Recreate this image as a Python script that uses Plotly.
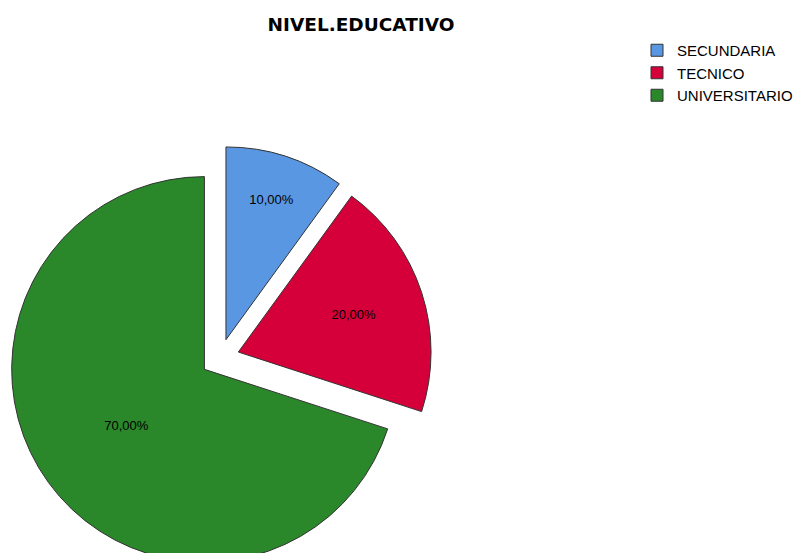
import plotly.graph_objects as go

# datos
categorias = ["SECUNDARIA", "TECNICO", "UNIVERSITARIO"]
porcentajes = [10, 20, 70]
colores = ["#5a97e2", "#d5003a", "#2a872a"]

# la pagina tiene 8px de margen en el body
W, H = 801, 575
off = 8

fig = go.Figure(go.Pie(
    labels=categorias,
    values=porcentajes,
    sort=False,
    direction="clockwise",
    rotation=0,
    pull=[0.1, 0.1, 0.1],
    marker=dict(colors=colores, line=dict(color="#333333", width=1)),
    texttemplate="%{percent:.2%}",
    textposition="inside",
    insidetextorientation="horizontal",
    textfont=dict(family="Liberation Sans, Arial", size=13, color="black"),
))

fig.update_layout(
    width=W, height=H,
    separators=",.",
    paper_bgcolor="white",
    margin=dict(l=0, r=W - 424, t=146 - off, b=H - 570 + off),
    font=dict(family="Liberation Sans, Arial", color="black"),
    title=dict(text="<b>NIVEL.EDUCATIVO</b>", xref="container", yref="container",
               x=(361 - off) / W, y=1 - (25 - off) / H, xanchor="center", yanchor="middle",
               font=dict(family="DejaVu Sans", size=18.5)),
    legend=dict(xref="container", yref="container", x=(637 - off) / W, y=1 - (34 - off) / H,
                xanchor="left", yanchor="top", font=dict(size=15),
                tracegroupgap=0, itemwidth=30),
    showlegend=True,
)

fig.write_html("out.html")
